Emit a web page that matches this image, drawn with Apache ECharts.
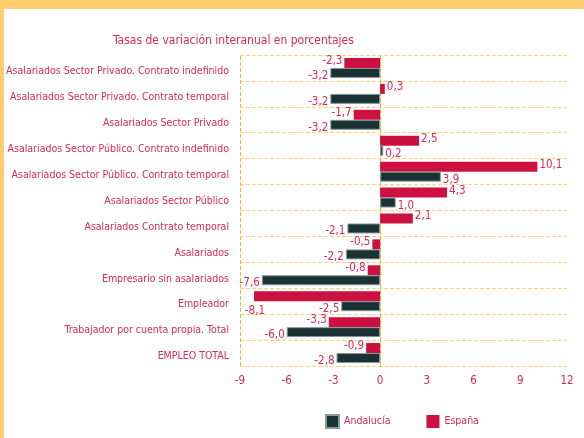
<!DOCTYPE html>
<html>
<head>
<meta charset="utf-8">
<script src="https://cdn.jsdelivr.net/npm/echarts@6/dist/echarts.min.js"></script>
<style>
  html, body { margin: 0; padding: 0; background: #fff; }
  #main { width: 584px; height: 438px; }
</style>
</head>
<body>
<div id="main"></div>
<script>
// categories from bottom to top
var categorias = [
    'EMPLEO TOTAL',
    'Trabajador por cuenta propia. Total',
    'Empleador',
    'Empresario sin asalariados',
    'Asalariados',
    'Asalariados Contrato temporal',
    'Asalariados Sector Público',
    'Asalariados Sector Público. Contrato temporal',
    'Asalariados Sector Público. Contrato indefinido',
    'Asalariados Sector Privado',
    'Asalariados Sector Privado. Contrato temporal',
    'Asalariados Sector Privado. Contrato indefinido'
];
var andalucia = [-2.8, -6.0, -2.5, -7.6, -2.2, -2.1, 1.0, 3.9, 0.2, -3.2, -3.2, -3.2];
var espana = [-0.9, -3.3, -8.1, -0.8, -0.5, 2.1, 4.3, 10.1, 2.5, -1.7, 0.3, -2.3];

var rojo = '#cc1040';
var oscuro = '#1b3234';
var texto = '#d42a55';
var fuente = "'DejaVu Sans Condensed', sans-serif";

var fmt = function (p) {
    return p.value.toFixed(1).replace('.', ',');
};

var conEtiqueta = function (arr, dy) {
    return arr.map(function (v) {
        return {
            value: v,
            label: {position: v < 0 ? 'left' : 'right', offset: [0, dy]}
        };
    });
};

var datosEsp = conEtiqueta(espana, -2);
// Empleador label sits under its bar in the original
datosEsp[2].label = {position: 'left', offset: [13, 15]};

var myChart = echarts.init(document.getElementById('main'));
var option = {
    backgroundColor: '#fff',
    textStyle: {fontFamily: fuente},
    graphic: [
        {type: 'rect', shape: {x: 0, y: 0, width: 584, height: 9}, style: {fill: '#ffcc70'}},
        {type: 'rect', shape: {x: 0, y: 0, width: 4, height: 438}, style: {fill: '#ffcc70'}}
    ],
    title: {
        text: 'Tasas de variación interanual en porcentajes',
        left: 108,
        top: 30,
        textStyle: {color: texto, fontSize: 12, fontWeight: 'normal', fontFamily: fuente}
    },
    legend: {
        data: ['Andalucía', 'España'],
        left: 325,
        top: 414,
        padding: 0,
        itemWidth: 13,
        itemHeight: 13,
        itemGap: 36,
        icon: 'rect',
        textStyle: {color: texto, fontSize: 10.5, fontFamily: fuente}
    },
    grid: {left: 240, right: 17, top: 55, bottom: 72, outerBoundsMode: 'none'},
    xAxis: {
        type: 'value',
        min: -9,
        max: 12,
        interval: 3,
        axisLine: {show: false},
        axisTick: {show: false},
        splitLine: {show: false},
        axisLabel: {color: texto, fontSize: 11.5, margin: 9, fontFamily: fuente}
    },
    yAxis: {
        type: 'category',
        data: categorias,
        axisLine: {show: true, lineStyle: {color: '#f2b530', type: 'dashed', width: 1}},
        axisTick: {show: false},
        splitLine: {show: true, lineStyle: {color: '#ffd27a', type: 'dashed', width: 1}},
        axisLabel: {
            color: texto, fontSize: 10.5, margin: 11, fontFamily: fuente,
            verticalAlign: 'top', lineHeight: 7
        }
    },
    series: [
        {
            name: 'España',
            type: 'bar',
            data: datosEsp,
            barWidth: 10,
            barGap: '0%',
            itemStyle: {color: rojo},
            label: {show: true, formatter: fmt, color: texto, fontSize: 11.5, distance: 2, fontFamily: fuente}
        },
        {
            name: 'Andalucía',
            type: 'bar',
            data: conEtiqueta(andalucia, 3),
            barWidth: 10,
            itemStyle: {color: oscuro, borderColor: '#8a9898', borderWidth: 1},
            label: {show: true, formatter: fmt, color: texto, fontSize: 11.5, distance: 2, fontFamily: fuente},
            markLine: {
                silent: true,
                symbol: 'none',
                label: {show: false},
                lineStyle: {color: '#f2b530', type: 'dashed', width: 1},
                data: [{xAxis: -9}]
            }
        }
    ]
};
myChart.setOption(option);
</script>
</body>
</html>
